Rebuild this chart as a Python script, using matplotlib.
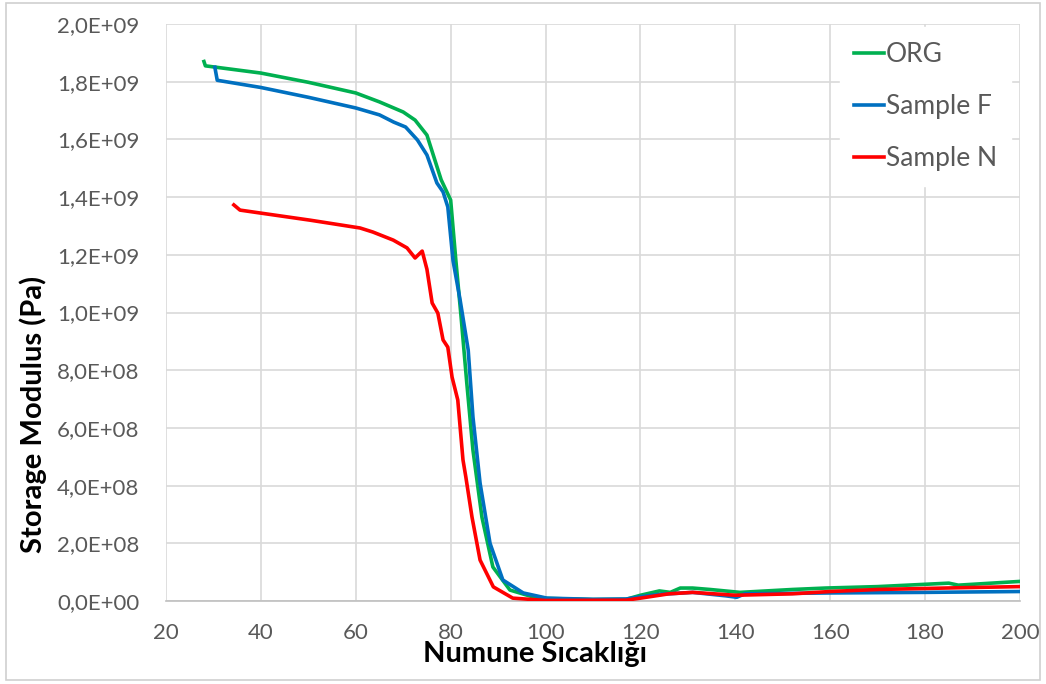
import matplotlib.pyplot as plt
from matplotlib.ticker import FuncFormatter
from matplotlib.patches import Rectangle

# sicaklik (x) ve storage modulus (y, Pa) degerleri
org_x = [28, 28.3, 40, 50, 60, 65, 70, 72.5, 75, 78, 80, 81.1, 82.2, 83.4, 84.7, 86.6, 88.9, 92.5, 98.2,
         110, 117, 120, 124, 126.3, 128.4, 131, 134.7, 141, 152, 159, 170, 180, 185, 187, 200]
org_y = [1.87e9, 1.855e9, 1.83e9, 1.798e9, 1.761e9, 1.73e9, 1.695e9, 1.667e9, 1.615e9, 1.46e9,
         1.39e9, 1.18e9, 0.985e9, 0.756e9, 0.523e9, 0.29e9, 0.118e9, 0.038e9, 0.01e9,
         0.005e9, 0.006e9, 0.02e9, 0.035e9, 0.03e9, 0.045e9, 0.045e9, 0.04e9, 0.03e9, 0.04e9,
         0.045e9, 0.05e9, 0.058e9, 0.062e9, 0.055e9, 0.068e9]

f_x = [30.3, 30.8, 40, 50, 60, 65, 68, 70.5, 73, 75, 77.1, 78.4, 79.4, 80.5, 82, 83.7, 84.7, 86.2, 88.3,
       91, 95.3, 100.3, 110, 117, 120, 124, 131, 138, 140.3, 142, 160, 180, 200]
f_y = [1.85e9, 1.805e9, 1.78e9, 1.746e9, 1.709e9, 1.685e9, 1.66e9, 1.643e9, 1.598e9, 1.546e9,
       1.449e9, 1.418e9, 1.366e9, 1.18e9, 1.043e9, 0.87e9, 0.638e9, 0.409e9, 0.2e9, 0.073e9,
       0.028e9, 0.01e9, 0.006e9, 0.007e9, 0.015e9, 0.023e9, 0.03e9, 0.018e9, 0.013e9, 0.025e9,
       0.028e9, 0.03e9, 0.033e9]

n_x = [34.3, 35.6, 39.8, 50.4, 60.9, 63.6, 67.9, 70.8, 72.5, 74, 75, 76.1, 77.3, 78.4, 79.4,
       80.3, 81.5, 82.6, 83.2, 84.5, 86.2, 89, 93.1, 100, 117, 120, 126, 131, 140, 152, 160, 170, 187, 200]
n_y = [1.373e9, 1.355e9, 1.345e9, 1.32e9, 1.293e9, 1.279e9, 1.251e9, 1.224e9, 1.189e9, 1.213e9,
       1.15e9, 1.033e9, 0.998e9, 0.905e9, 0.88e9, 0.776e9, 0.697e9, 0.489e9, 0.43e9, 0.291e9,
       0.142e9, 0.049e9, 0.01e9, 0.002e9, 0.003e9, 0.01e9, 0.025e9, 0.03e9, 0.02e9, 0.025e9,
       0.033e9, 0.04e9, 0.046e9, 0.05e9]

plt.rcParams['font.family'] = ['Lato', 'DejaVu Sans']

fig = plt.figure(figsize=(10.46, 6.84), dpi=100)
ax = fig.add_axes([0.1587, 0.1213, 0.8164, 0.8436])

ax.plot(org_x, org_y, color='#00b050', lw=2.6, label='ORG', zorder=3)
ax.plot(f_x, f_y, color='#0070c0', lw=2.6, label='Sample F', zorder=3)
ax.plot(n_x, n_y, color='#ff0000', lw=2.6, label='Sample N', zorder=4)

ax.set_xlim(20, 200)
ax.set_ylim(0, 2.0e9)
ax.set_xticks(range(20, 201, 20))
ax.set_yticks([i * 0.2e9 for i in range(11)])
ax.yaxis.set_major_formatter(FuncFormatter(lambda v, p: f"{v:.1E}".replace('.', ',')))
ax.grid(True, color='#d9d9d9', lw=1.2)
ax.set_axisbelow(True)
for s in ['top', 'right', 'left']:
    ax.spines[s].set_visible(False)
ax.spines['bottom'].set_color('#bfbfbf')
ax.spines['bottom'].set_linewidth(1.2)
ax.tick_params(length=0, labelsize=16, labelcolor='#595959')
ax.tick_params(axis='y', pad=19)
ax.tick_params(axis='x', pad=16)

ax.set_xlabel('Numune Sıcaklığı', fontsize=21, fontweight='bold')
ax.set_ylabel('Storage Modulus (Pa)', fontsize=21, fontweight='bold')
ax.xaxis.set_label_coords(0.432, -0.07)
ax.yaxis.set_label_coords(-0.139, 0.324)

leg = ax.legend(loc='upper right', bbox_to_anchor=(0.99, 0.994), frameon=True, fontsize=19,
                handlelength=1.15, handletextpad=0.05, labelspacing=1.03, borderpad=0.55,
                borderaxespad=0, fancybox=False)
leg.get_frame().set_edgecolor('white')
leg.get_frame().set_facecolor('white')
leg.get_frame().set_alpha(1)
for t in leg.get_texts():
    t.set_color('#595959')

fig.patches.append(Rectangle((0.006, 0.006), 0.988, 0.99, transform=fig.transFigure,
                             fill=False, edgecolor='#d0d0d0', lw=1.2))

fig.savefig('out.png', dpi=100)
